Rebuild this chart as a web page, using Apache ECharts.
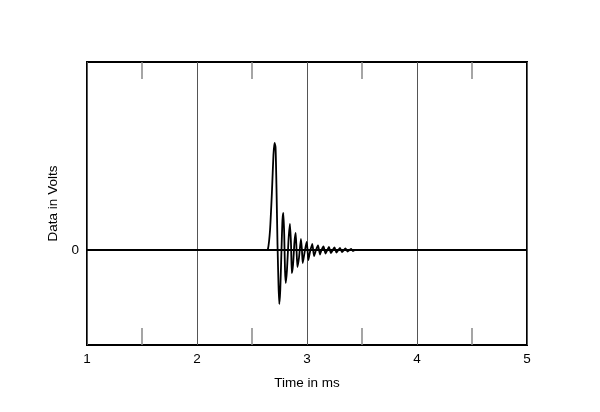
<!DOCTYPE html>
<html>
<head>
<meta charset="utf-8">
<script src="https://cdn.jsdelivr.net/npm/echarts@6/dist/echarts.min.js"></script>
<style>html,body{margin:0;padding:0;background:#fff;}#c{width:600px;height:412px;}</style>
</head>
<body>
<div id="c"></div>
<script>
// Time in ms
var times = [1.000, 2.627, 2.645, 2.664, 2.682, 2.695, 2.705, 2.714, 2.723, 2.732, 2.741, 2.748, 2.757, 2.768,
  2.777, 2.785, 2.793, 2.800, 2.807, 2.818, 2.832, 2.845, 2.855, 2.862, 2.873, 2.886, 2.897, 2.905, 2.913,
  2.927, 2.945, 2.954, 2.961, 2.977, 2.997, 3.005, 3.012, 3.027, 3.048, 3.064, 3.082, 3.100, 3.118, 3.132,
  3.150, 3.168, 3.200, 3.218, 3.250, 3.268, 3.300, 3.318, 3.350, 3.368, 3.400, 3.418, 3.436];
// Data in Volts (arbitrary units)
var volts = [0, 0, 0.01, 0.20, 0.60, 0.95, 1.07, 1.03, 0.60, 0.05, -0.35, -0.54, -0.40, 0.00,
  0.30, 0.37, 0.15, -0.20, -0.33, -0.20, 0.10, 0.26, 0.05, -0.23, -0.15, 0.08, 0.17, 0.00, -0.17,
  -0.08, 0.11, 0.00, -0.13, -0.03, 0.08, 0.00, -0.10, -0.02, 0.06, -0.06, 0.00, 0.045, -0.045, 0.00,
  0.035, -0.035, 0.03, -0.03, 0.025, -0.025, 0.02, -0.02, 0.015, -0.015, 0.01, -0.01, 0.00];
var xTicks = [1, 2, 3, 4, 5];
var yTicks = [0];

var pts = times.map(function (t, i) { return [t, volts[i]]; });
var font = 'Liberation Sans, Arial, sans-serif';

var chart = echarts.init(document.getElementById('c'));
chart.setOption({
  animation: false,
  backgroundColor: '#fff',
  grid: { left: 87, right: 73, top: 62, bottom: 67, show: true, borderColor: '#000', borderWidth: 2, backgroundColor: 'transparent' },
  xAxis: [{
    type: 'value', min: 1, max: 5, interval: 1, position: 'bottom',
    name: 'Time in ms', nameLocation: 'middle', nameGap: 31,
    nameTextStyle: { fontFamily: font, fontSize: 13.5, color: '#000' },
    axisLine: { show: false, onZero: false },
    axisTick: { show: false },
    axisLabel: { fontFamily: font, fontSize: 13.5, color: '#000', margin: 7,
      customValues: xTicks },
    splitLine: { show: true, lineStyle: { color: '#555', width: 1 } },
    minorTick: { show: true, splitNumber: 2, length: -17, lineStyle: { color: '#888', width: 1.5 } },
    minorSplitLine: { show: false }
  }, {
    type: 'value', min: 1, max: 5, interval: 1, position: 'top',
    axisLine: { show: false, onZero: false }, axisTick: { show: false }, axisLabel: { show: false },
    splitLine: { show: false },
    minorTick: { show: true, splitNumber: 2, length: -17, lineStyle: { color: '#888', width: 1.5 } }
  }],
  yAxis: {
    type: 'value', min: -0.95, max: 1.88,
    name: 'Data in Volts', nameLocation: 'middle', nameGap: 23, nameRotate: 90,
    nameTextStyle: { fontFamily: font, fontSize: 13.5, color: '#000' },
    axisLine: { show: false, onZero: false },
    axisTick: { show: false },
    axisLabel: { fontFamily: font, fontSize: 13.5, color: '#000', margin: 8, customValues: yTicks },
    splitLine: { show: false }
  },
  series: [{
    type: 'line', data: [[1, 0], [5, 0]], xAxisIndex: 0, showSymbol: false, silent: true,
    lineStyle: { color: '#000', width: 1.8 }
  }, {
    type: 'line', data: pts, xAxisIndex: 0, showSymbol: false, smooth: 0.2,
    lineStyle: { color: '#000', width: 1.8 }
  }]
});
</script>
</body>
</html>
